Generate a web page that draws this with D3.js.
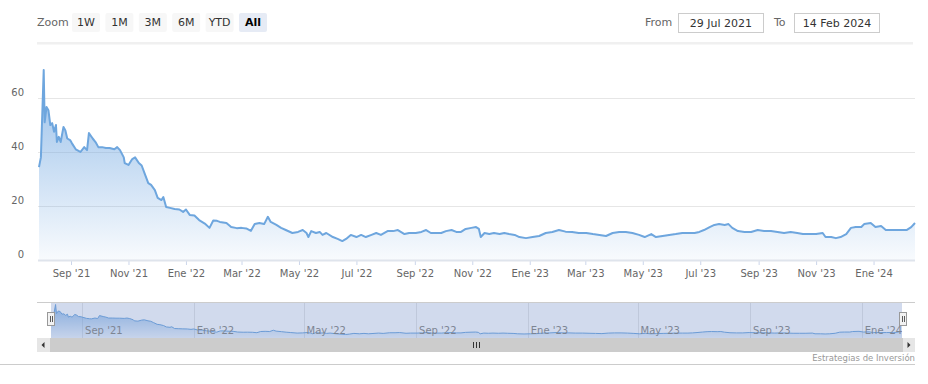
<!DOCTYPE html>
<html>
<head>
<meta charset="utf-8">
<script src="https://cdn.jsdelivr.net/npm/d3@7"></script>
<style>
  html, body { margin: 0; padding: 0; background: #ffffff; }
  svg { display: block; font-family: "DejaVu Sans", Verdana, sans-serif; }
</style>
</head>
<body>
<svg id="chart" width="928" height="384"></svg>
<script>
// ---------- DATA ----------
const dates = [
  "2021-07-29","2021-07-31","2021-08-03","2021-08-04","2021-08-06","2021-08-08","2021-08-10","2021-08-12",
  "2021-08-14","2021-08-16","2021-08-17","2021-08-19","2021-08-21","2021-08-24","2021-08-26","2021-08-28",
  "2021-08-31","2021-09-02","2021-09-06","2021-09-09","2021-09-11","2021-09-15","2021-09-18","2021-09-20",
  "2021-09-24","2021-09-27","2021-09-30","2021-10-04","2021-10-08","2021-10-12","2021-10-17","2021-10-20",
  "2021-10-23","2021-10-27","2021-10-28","2021-11-01","2021-11-05","2021-11-08","2021-11-12","2021-11-15",
  "2021-11-18","2021-11-22","2021-11-25","2021-11-29","2021-12-02","2021-12-06","2021-12-08","2021-12-11",
  "2021-12-15","2021-12-20","2021-12-25","2021-12-29","2022-01-01","2022-01-05","2022-01-10","2022-01-15",
  "2022-01-21","2022-01-26","2022-01-30","2022-02-03","2022-02-06","2022-02-13","2022-02-18","2022-02-24",
  "2022-03-01","2022-03-06","2022-03-11","2022-03-15","2022-03-20","2022-03-25","2022-03-29","2022-04-01",
  "2022-04-07","2022-04-12","2022-04-17","2022-04-24","2022-04-30","2022-05-05","2022-05-09","2022-05-11",
  "2022-05-14","2022-05-19","2022-05-23","2022-05-26","2022-05-30","2022-06-06","2022-06-11","2022-06-16",
  "2022-06-20","2022-06-25","2022-07-01","2022-07-06","2022-07-11","2022-07-17","2022-07-22","2022-07-27",
  "2022-08-03","2022-08-09","2022-08-14","2022-08-21","2022-08-26","2022-09-02","2022-09-08","2022-09-13",
  "2022-09-18","2022-09-23","2022-09-29","2022-10-04","2022-10-10","2022-10-15","2022-10-20","2022-10-25",
  "2022-10-31","2022-11-05","2022-11-08","2022-11-10","2022-11-14","2022-11-19","2022-11-24","2022-11-30",
  "2022-12-05","2022-12-10","2022-12-16","2022-12-21","2022-12-28","2023-01-04","2023-01-11","2023-01-18",
  "2023-01-25","2023-02-01","2023-02-08","2023-02-15","2023-02-22","2023-03-02","2023-03-09","2023-03-16",
  "2023-03-23","2023-03-30","2023-04-06","2023-04-13","2023-04-20","2023-04-27","2023-05-03","2023-05-10",
  "2023-05-15","2023-05-22","2023-05-29","2023-06-05","2023-06-12","2023-06-19","2023-06-25","2023-06-30",
  "2023-07-05","2023-07-11","2023-07-16","2023-07-21","2023-07-27","2023-07-31","2023-08-04","2023-08-10",
  "2023-08-17","2023-08-24","2023-08-31","2023-09-07","2023-09-14","2023-09-21","2023-09-28","2023-10-05",
  "2023-10-12","2023-10-18","2023-10-25","2023-11-01","2023-11-08","2023-11-11","2023-11-17","2023-11-22",
  "2023-11-27","2023-12-03","2023-12-08","2023-12-13","2023-12-19","2023-12-22","2023-12-29","2024-01-03",
  "2024-01-09","2024-01-14","2024-01-21","2024-01-28","2024-02-05","2024-02-10","2024-02-14"
];
const values = [
  34.4, 38.0, 70.4, 51.0, 56.7, 55.5, 50.0, 50.7,
  47.5, 50.0, 43.7, 45.6, 43.7, 49.3, 48.0, 45.0,
  44.4, 43.2, 41.0, 40.4, 40.0, 41.8, 40.7, 47.0,
  45.0, 43.7, 41.8, 41.8, 41.5, 41.5, 41.0, 41.8,
  40.7, 38.0, 35.9, 35.2, 37.4, 38.0, 35.9, 35.0,
  32.2, 28.5, 27.8, 25.9, 23.0, 22.2, 23.3, 19.6,
  19.3, 18.9, 18.7, 17.8, 18.7, 16.7, 16.5, 14.8,
  13.5, 11.9, 14.6, 14.5, 14.1, 13.7, 12.2, 11.8,
  11.9, 11.7, 10.8, 13.3, 13.7, 13.3, 16.0, 14.1,
  13.0, 11.9, 11.1, 10.0, 10.4, 11.1, 10.0, 8.5,
  10.7, 10.0, 10.4, 9.3, 10.0, 8.5, 7.8, 7.0,
  7.8, 9.3, 8.5, 9.3, 8.5, 9.3, 10.0, 9.3,
  10.7, 10.7, 11.1, 9.6, 10.0, 10.0, 10.4, 11.1,
  10.0, 10.0, 10.0, 10.7, 11.1, 10.4, 10.4, 11.5,
  11.9, 12.2, 11.5, 8.5, 10.0, 9.6, 10.0, 9.6,
  10.0, 9.6, 9.3, 8.5, 8.1, 8.5, 8.9, 10.0,
  10.4, 11.1, 10.5, 10.4, 10.0, 10.0, 9.6, 9.3,
  8.9, 10.0, 10.4, 10.4, 10.0, 9.3, 8.5, 9.6,
  8.5, 8.9, 9.3, 9.6, 10.0, 10.0, 10.0, 10.4,
  11.1, 12.2, 13.0, 13.3, 13.0, 13.3, 11.9, 10.7,
  10.4, 10.4, 11.1, 10.7, 10.7, 10.4, 10.0, 10.4,
  10.0, 9.6, 9.6, 9.6, 10.0, 8.5, 8.5, 8.1,
  8.5, 9.6, 11.9, 12.2, 12.2, 13.3, 13.7, 12.2,
  12.6, 11.1, 11.1, 11.1, 11.1, 12.2, 13.7
];
const yTickValues = [0, 20, 40, 60];
const monthNames = ["Ene","Feb","Mar","Abr","May","Jun","Jul","Ago","Sep","Oct","Nov","Dic"];
const zoomButtons = ["1W", "1M", "3M", "6M", "YTD", "All"];
const selectedButton = "All";
const fromLabel = "From", toLabel = "To";
const fromText = "29 Jul 2021", toText = "14 Feb 2024";
const startDate = "2021-07-29", endDate = "2024-02-14";
const creditText = "Estrategias de Inversión";

// ---------- SETUP ----------
const parse = d3.timeParse("%Y-%m-%d");
const data = dates.map((d, i) => ({ date: parse(d), value: values[i] }));
const svg = d3.select("#chart");
const fmt = d => `${monthNames[d.getMonth()]} '${String(d.getFullYear()).slice(2)}`;
const domainX = [parse(startDate), parse(endDate)];

const x = d3.scaleTime().domain(domainX).range([39, 915]);
const y = d3.scaleLinear().domain([0, 80]).range([260, 44]);

const defs = svg.append("defs");
const grad = defs.append("linearGradient").attr("id", "areaGrad")
  .attr("gradientUnits", "userSpaceOnUse").attr("x1", 0).attr("x2", 0).attr("y1", 68).attr("y2", 262);
grad.append("stop").attr("offset", 0).attr("stop-color", "rgb(108,164,224)").attr("stop-opacity", 0.72);
grad.append("stop").attr("offset", 1).attr("stop-color", "rgb(108,164,224)").attr("stop-opacity", 0.04);

const ngrad = defs.append("linearGradient").attr("id", "navGrad")
  .attr("gradientUnits", "userSpaceOnUse").attr("x1", 0).attr("x2", 0).attr("y1", 304).attr("y2", 338);
ngrad.append("stop").attr("offset", 0).attr("stop-color", "rgb(108,164,224)").attr("stop-opacity", 0.75);
ngrad.append("stop").attr("offset", 1).attr("stop-color", "rgb(108,164,224)").attr("stop-opacity", 0.1);

// ---------- RANGE SELECTOR ----------
svg.append("text").attr("x", 37).attr("y", 26).attr("font-size", 11).attr("fill", "#666").text("Zoom");
const bg = svg.append("g");
zoomButtons.forEach((b, i) => {
  const bx = 72 + i * 33.4;
  const sel = b === selectedButton;
  bg.append("rect").attr("x", bx).attr("y", 13).attr("width", 28).attr("height", 19).attr("rx", 2)
    .attr("fill", sel ? "#e6ebf5" : "#f7f7f7");
  bg.append("text").attr("x", bx + 14).attr("y", 26).attr("text-anchor", "middle")
    .attr("font-size", 11).attr("font-weight", sel ? "bold" : "normal")
    .attr("fill", sel ? "#000" : "#333").text(b);
});
svg.append("text").attr("x", 645).attr("y", 26).attr("font-size", 11).attr("fill", "#666").text(fromLabel);
svg.append("rect").attr("x", 678.5).attr("y", 13.5).attr("width", 85).attr("height", 19)
  .attr("fill", "#fff").attr("stroke", "#cccccc");
svg.append("text").attr("x", 721).attr("y", 26.5).attr("text-anchor", "middle").attr("font-size", 11).attr("fill", "#333").text(fromText);
svg.append("text").attr("x", 774).attr("y", 26).attr("font-size", 11).attr("fill", "#666").text(toLabel);
svg.append("rect").attr("x", 794.5).attr("y", 13.5).attr("width", 85).attr("height", 19)
  .attr("fill", "#fff").attr("stroke", "#cccccc");
svg.append("text").attr("x", 837).attr("y", 26.5).attr("text-anchor", "middle").attr("font-size", 11).attr("fill", "#333").text(toText);

// separator band under selector
svg.append("rect").attr("x", 37).attr("y", 42).attr("width", 876).attr("height", 2.5).attr("fill", "#f0f0f0");

// ---------- MAIN PLOT ----------
// gridlines
svg.append("g").selectAll("line").data(yTickValues.filter(v => v > 0)).join("line")
  .attr("x1", 38).attr("x2", 915)
  .attr("y1", d => Math.round(y(d)) + 0.5).attr("y2", d => Math.round(y(d)) + 0.5)
  .attr("stroke", "#e6e6e6").attr("stroke-width", 1);

// y labels
svg.append("g").selectAll("text").data(yTickValues).join("text")
  .attr("x", 24).attr("y", d => y(d) - 2).attr("text-anchor", "end")
  .attr("font-size", 10).attr("fill", "#666").text(d => d);

// area + line
const area = d3.area().x(d => x(d.date)).y0(y(0)).y1(d => y(d.value));
const line = d3.line().x(d => x(d.date)).y(d => y(d.value));
svg.append("path").datum(data).attr("d", area).attr("fill", "url(#areaGrad)");
svg.append("path").datum(data).attr("d", line).attr("fill", "none")
  .attr("stroke", "#6ea6de").attr("stroke-width", 2).attr("stroke-linejoin", "round");

// x axis
const xAxis = d3.axisBottom(x).ticks(d3.timeMonth.every(2)).tickFormat(fmt).tickSize(5).tickPadding(5);
const gx = svg.append("g").attr("transform", "translate(0,260)").call(xAxis);
gx.select(".domain").remove();
gx.selectAll(".tick line").attr("stroke", "#ccd6eb");
gx.selectAll(".tick text").attr("font-size", 10).attr("fill", "#666")
  .attr("font-family", "DejaVu Sans, Verdana, sans-serif");
svg.append("line").attr("x1", 38).attr("x2", 915).attr("y1", 260.5).attr("y2", 260.5)
  .attr("stroke", "#dfe4ec").attr("stroke-width", 2);

// ---------- NAVIGATOR ----------
const nx = d3.scaleTime().domain(domainX).range([51, 902]);
const ny = d3.scaleLinear().domain(d3.extent(values)).range([334.5, 304.5]);
const navTicks = nx.ticks(d3.timeMonth.every(4));

svg.append("line").attr("x1", 37).attr("x2", 915).attr("y1", 302.5).attr("y2", 302.5).attr("stroke", "#cccccc");
svg.append("g").selectAll("line").data(navTicks).join("line")
  .attr("x1", d => Math.round(nx(d)) + 0.5).attr("x2", d => Math.round(nx(d)) + 0.5)
  .attr("y1", 303).attr("y2", 338).attr("stroke", "#e6e6e6");
const narea = d3.area().x(d => nx(d.date)).y0(338).y1(d => ny(d.value));
const nline = d3.line().x(d => nx(d.date)).y(d => ny(d.value));
svg.append("path").datum(data).attr("d", narea).attr("fill", "url(#navGrad)");
svg.append("path").datum(data).attr("d", nline).attr("fill", "none").attr("stroke", "#6ea6de").attr("stroke-width", 1);
// mask
svg.append("rect").attr("x", 51).attr("y", 303).attr("width", 851).attr("height", 35)
  .attr("fill", "rgba(102,133,194,0.3)");
// nav labels
svg.append("g").selectAll("text").data(navTicks).join("text")
  .attr("x", d => nx(d) + 3).attr("y", 334).attr("font-size", 10).attr("fill", "#7d8593").text(fmt);

// handles
[51, 903].forEach(hx => {
  svg.append("rect").attr("x", hx - 3.5).attr("y", 312.5).attr("width", 7).attr("height", 13)
    .attr("fill", "#f2f2f2").attr("stroke", "#999999");
  [hx - 1, hx + 1].forEach(lx => svg.append("line").attr("x1", lx + 0.5).attr("x2", lx + 0.5)
    .attr("y1", 316).attr("y2", 322).attr("stroke", "#333").attr("stroke-width", 0.8));
});

// scrollbar
svg.append("rect").attr("x", 37).attr("y", 338).attr("width", 878).attr("height", 14).attr("fill", "#f2f2f2");
svg.append("rect").attr("x", 50).attr("y", 338).attr("width", 853).attr("height", 14).attr("fill", "#cccccc");
svg.append("rect").attr("x", 37).attr("y", 338).attr("width", 13).attr("height", 14).attr("fill", "#e6e6e6");
svg.append("rect").attr("x", 903).attr("y", 338).attr("width", 12).attr("height", 14).attr("fill", "#e6e6e6");
svg.append("path").attr("d", "M44.5,342 L41.5,345 L44.5,348 Z").attr("fill", "#333");
svg.append("path").attr("d", "M907.5,342 L910.5,345 L907.5,348 Z").attr("fill", "#333");
[473.5, 476.5, 479.5].forEach(gxp => svg.append("line").attr("x1", gxp).attr("x2", gxp)
  .attr("y1", 342).attr("y2", 348).attr("stroke", "#333").attr("stroke-width", 1));

// credits + bottom line
svg.append("text").attr("x", 915).attr("y", 361).attr("text-anchor", "end")
  .attr("font-size", 8.5).attr("fill", "#999").text(creditText);
svg.append("line").attr("x1", 0).attr("x2", 915).attr("y1", 364.5).attr("y2", 364.5).attr("stroke", "#cccccc");
</script>
</body>
</html>
